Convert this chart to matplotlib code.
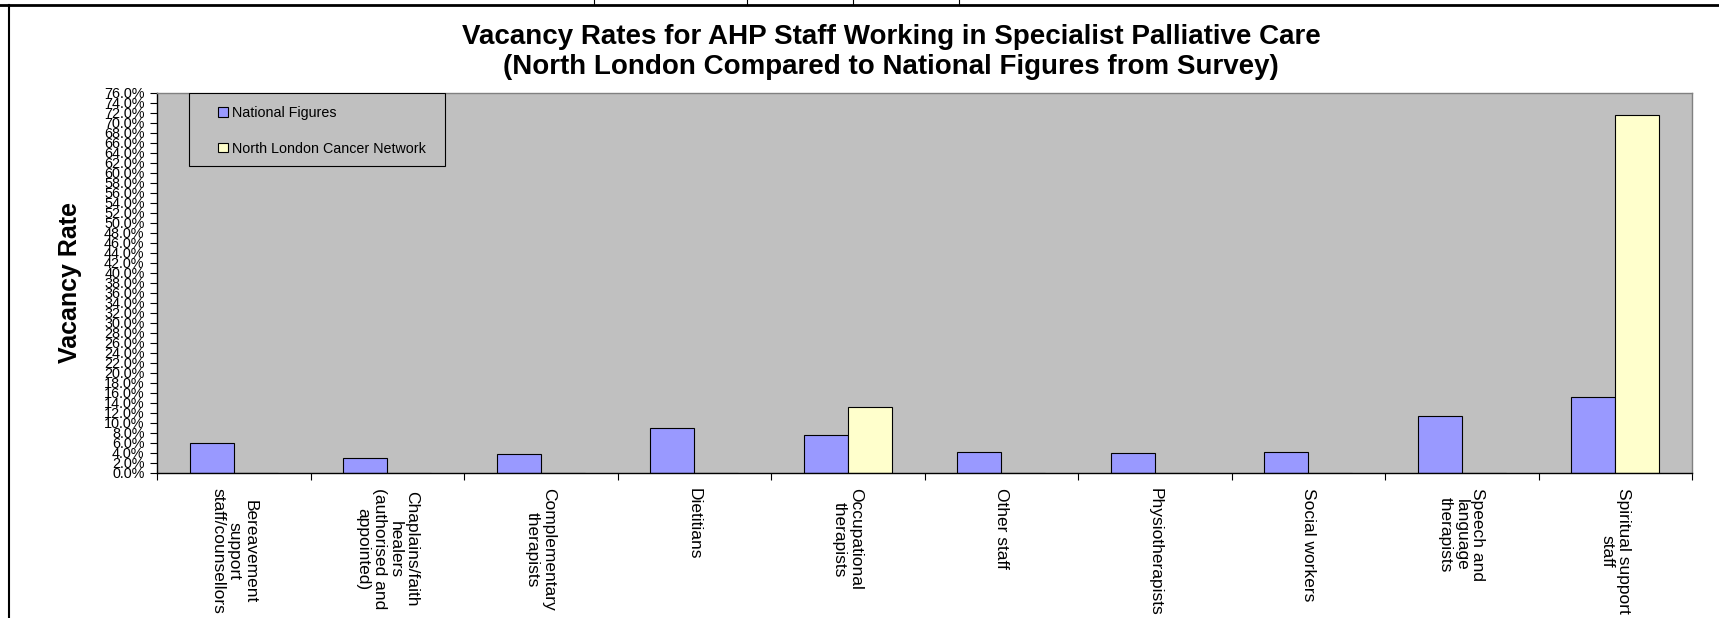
import numpy as np
import matplotlib
matplotlib.use("Agg")
import matplotlib.pyplot as plt
from matplotlib.patches import Rectangle
from matplotlib.lines import Line2D

plt.rcParams['font.family'] = ['Liberation Sans', 'DejaVu Sans']

categories = [
    "Bereavement\nsupport\nstaff/counsellors",
    "Chaplains/faith\nhealers\n(authorised and\nappointed)",
    "Complementary\ntherapists",
    "Dietitians",
    "Occupational\ntherapists",
    "Other staff",
    "Physiotherapists",
    "Social workers",
    "Speech and\nlanguage\ntherapists",
    "Spiritual support\nstaff",
]
national = [5.9, 2.9, 3.7, 9.0, 7.5, 4.1, 3.9, 4.1, 11.4, 15.1]
north_london = [0, 0, 0, 0, 13.1, 0, 0, 0, 0, 71.6]
series_names = ["National Figures", "North London Cancer Network"]
yticks = np.arange(0, 77, 2)

fig = plt.figure(figsize=(17.19, 6.18), dpi=100)
ax = fig.add_axes([157/1719, 1 - 472.5/618, (1692-157)/1719, (472.5-93)/618])
ax.set_facecolor("#c0c0c0")

x = np.arange(len(categories))
bw = 1 / 3.5
ax.bar(x - bw/2, national, bw, color="#9999ff", edgecolor="black", linewidth=0.8,
       label=series_names[0], zorder=2)
ax.bar(x + bw/2, north_london, bw, color="#ffffcc", edgecolor="black", linewidth=0.8,
       label=series_names[1], zorder=2)

ax.set_xlim(-0.5, len(categories) - 0.5)
ax.set_ylim(0, 76)
ax.set_yticks(yticks)
ax.set_yticklabels([f"{v:.1f}%" for v in yticks], fontsize=10.4)
ax.tick_params(axis='y', direction='out', length=5, width=0.8, pad=4)

ax.set_xticks(x)
ax.set_xticklabels(categories, rotation=-90, fontsize=12.5, va='top', ha='center',
                   multialignment='center', linespacing=1.1)
ax.tick_params(axis='x', which='major', length=0, pad=11.5)
ax.set_xticks(np.arange(-0.5, len(categories), 1), minor=True)
ax.tick_params(axis='x', which='minor', direction='out', length=5, width=0.8)

for s in ['left', 'bottom']:
    ax.spines[s].set_color('black')
    ax.spines[s].set_linewidth(1.0)
for s in ['top', 'right']:
    ax.spines[s].set_color('#808080')
    ax.spines[s].set_linewidth(1.0)

ax.set_ylabel("Vacancy Rate", fontsize=18, fontweight='bold')
ax.yaxis.set_label_coords((82 - 157) / 1535, 0.5)

# legend box
ax.add_patch(Rectangle((32/1535, 1 - 73/379.5), 256/1535, 73/379.5, transform=ax.transAxes,
                       facecolor="#c0c0c0", edgecolor="black", linewidth=0.8, zorder=3))
leg = ax.legend(loc='upper left', bbox_to_anchor=(57/1535, 1 - 9/379.5), frameon=False,
                fontsize=10.3, handlelength=0.65, handleheight=0.65, handletextpad=0.3,
                labelspacing=1.5, borderpad=0.3, borderaxespad=0)
leg.set_zorder(4)

fig.text(891/1719, 1 - 51.5/618,
         "Vacancy Rates for AHP Staff Working in Specialist Palliative Care\n"
         "(North London Compared to National Figures from Survey)",
         ha='center', va='center', fontsize=20, fontweight='bold', linespacing=1.2)

# chart area border and the table lines above it
fig.add_artist(Line2D([9/1719, 9/1719], [0, 1 - 5/618], transform=fig.transFigure, color='black', lw=1.5))
fig.add_artist(Line2D([0, 1], [1 - 5/618, 1 - 5/618], transform=fig.transFigure, color='black', lw=2))
for xp in [594, 747, 853, 959]:
    fig.add_artist(Line2D([xp/1719, xp/1719], [1 - 5/618, 1], transform=fig.transFigure, color='black', lw=0.8))

fig.savefig("out.png", dpi=100)
